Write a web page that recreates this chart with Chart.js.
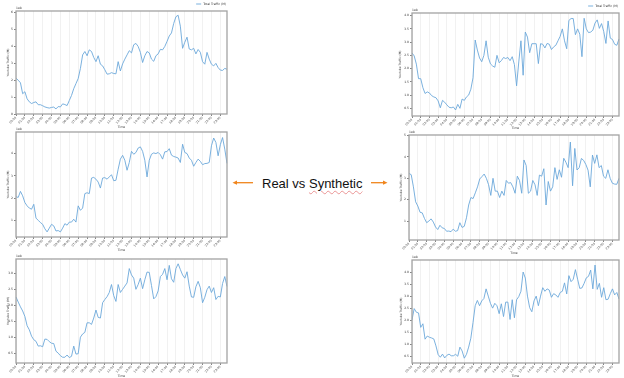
<!DOCTYPE html>
<html lang="en">
<head>
<meta charset="UTF-8">
<title>Youtube Traffic - Real vs Synthetic</title>
<script src="https://cdn.jsdelivr.net/npm/chart.js"></script>
<style>
    body {
        margin: 0;
        background: #fff;
        width: 624px;
        height: 378px;
        position: relative;
        overflow: hidden;
    }
    canvas {
        position: absolute;
    }
    .caption {
        position: absolute;
        left: 262px;
        top: 177px;
        font-family: "Liberation Sans", Arial, sans-serif;
        font-size: 13px;
        line-height: 13px;
        color: #111;
        white-space: nowrap;
    }
    .caption span {
        text-decoration: underline wavy rgba(226, 110, 110, 0.7);
        text-decoration-thickness: 0.8px;
        text-underline-offset: 1.5px;
    }
    svg {
        position: absolute;
        left: 0;
        top: 0;
    }
</style>
</head>
<body>
    <canvas id="realTopChart"></canvas>
    <canvas id="realMiddleChart"></canvas>
    <canvas id="realBottomChart"></canvas>
    <canvas id="synthTopChart"></canvas>
    <canvas id="synthMiddleChart"></canvas>
    <canvas id="synthBottomChart"></canvas>

    <div class="caption">Real vs <span>Synthetic</span></div>
    <svg width="624" height="378">
        <g stroke="#f0851c" stroke-width="1.3" fill="#f0851c">
            <line x1="253" y1="182.7" x2="236" y2="182.7"/>
            <polygon points="232.5,182.7 237,180.6 237,184.8" stroke="none"/>
            <line x1="371" y1="182.7" x2="383.5" y2="182.7"/>
            <polygon points="387.5,182.7 383,180.6 383,184.8" stroke="none"/>
        </g>
    </svg>

<script>
// hourly tick labels, each hour split into 15 minute samples
const hourLabels = ['00:00', '01:00', '02:00', '03:00', '04:00', '05:00', '06:00', '07:00',
    '08:00', '09:00', '10:00', '11:00', '12:00', '13:00', '14:00', '15:00',
    '16:00', '17:00', '18:00', '19:00', '20:00', '21:00', '22:00', '23:00'];
const quarterMinutes = ['00', '15', '30', '45'];
const timeLabels = hourLabels.flatMap(h => quarterMinutes.map(m => h.slice(0, 3) + m));

// traffic in units of 1e8
const realTop = [2.12, 2.0, 1.85, 1.2, 1.32, 0.9, 0.72, 0.62, 0.68, 0.72,
    0.55, 0.55, 0.49, 0.42, 0.38, 0.35, 0.39, 0.41, 0.3, 0.44,
    0.42, 0.6, 0.56, 0.5, 0.8, 1.1, 1.5, 1.8, 2.1, 2.7,
    3.5, 3.7, 3.45, 3.8, 3.7, 3.35, 3.1, 3.45, 2.95, 2.85,
    2.62, 2.36, 2.38, 2.45, 2.4, 2.38, 3.1, 2.55, 2.97, 3.25,
    3.5, 3.75, 3.62, 4.1, 4.18, 4.0, 3.65, 3.05, 3.45, 3.7,
    3.62, 3.25, 3.12, 3.45, 3.56, 3.83, 3.8, 4.0, 4.3, 4.62,
    4.8, 5.36, 5.76, 5.85, 5.2, 3.89, 4.25, 4.55, 3.85, 3.8,
    3.89, 3.56, 3.82, 3.65, 3.1, 2.95, 3.65, 3.25, 2.95, 2.85,
    3.0, 2.75, 2.6, 2.58, 2.7, 2.65];

const realMiddle = [2.06, 2.03, 2.3, 2.1, 1.8, 1.65, 1.55, 1.5, 1.72, 1.1,
    1.0, 0.9, 0.82, 0.62, 0.48, 0.65, 0.82, 0.75, 0.52, 0.54,
    0.48, 0.65, 0.85, 0.78, 0.92, 0.92, 1.05, 0.92, 1.65, 1.45,
    1.55, 2.2, 2.24, 2.2, 2.9, 2.93, 2.85, 2.72, 2.45, 2.9,
    2.92, 2.85, 2.95, 3.05, 2.78, 2.8, 3.3, 3.75, 3.92, 3.7,
    3.25, 3.6, 4.1, 3.97, 4.05, 4.25, 4.3, 4.1, 3.7, 2.95,
    3.7, 3.97, 4.03, 4.0, 4.05, 3.95, 3.75, 4.08, 4.09, 4.22,
    3.93, 3.87, 3.84, 3.8, 3.6, 4.42, 4.05, 4.0, 3.8, 3.7,
    3.43, 3.6, 3.75, 3.65, 3.5, 3.55, 3.56, 3.6, 4.35, 4.7,
    4.5, 3.9, 4.4, 4.72, 4.2, 3.56];

const realBottom = [2.26, 2.1, 1.95, 1.82, 1.65, 1.36, 1.23, 1.03, 0.92, 0.87,
    0.72, 0.73, 0.7, 0.94, 0.93, 0.86, 0.81, 0.8, 0.56, 0.5,
    0.42, 0.37, 0.37, 0.44, 0.36, 0.4, 0.72, 0.47, 0.48, 1.0,
    1.1, 1.15, 1.45, 1.45, 1.4, 1.6, 1.85, 1.62, 1.6, 2.08,
    2.18, 2.27, 2.4, 2.65, 2.3, 2.12, 2.65, 2.4, 2.5, 2.6,
    2.7, 3.15, 2.95, 2.85, 2.5, 2.65, 2.85, 2.52, 2.8, 3.04,
    3.03, 2.62, 2.2, 2.27, 2.45, 2.9, 2.97, 3.15, 2.8, 3.25,
    2.83, 2.72, 3.15, 3.3, 3.12, 2.95, 2.85, 3.05, 2.6, 2.26,
    2.25, 2.58, 2.75, 2.55, 2.08, 2.25, 2.49, 2.6, 2.4, 2.55,
    2.18, 2.28, 2.26, 2.68, 2.9, 2.59];

const synthTop = [2.59, 2.48, 2.17, 1.62, 1.62, 1.28, 1.06, 1.12, 1.08, 0.98,
    0.93, 0.9, 0.78, 0.52, 0.8, 0.73, 0.63, 0.54, 0.52, 0.55,
    0.44, 0.65, 0.5, 0.85, 0.8, 0.93, 1.0, 1.22, 1.65, 3.08,
    2.7, 2.4, 2.26, 2.5, 3.05, 2.43, 2.18, 2.1, 2.05, 2.5,
    2.22, 2.3, 2.42, 2.38, 2.42, 2.3, 2.45, 2.15, 1.35, 2.25,
    3.05, 1.75, 3.38, 3.19, 2.6, 2.94, 2.94, 2.94, 2.19, 2.94,
    2.92, 2.78, 2.95, 2.92, 2.72, 2.82, 2.88, 3.05, 3.22, 3.5,
    3.05, 2.75, 3.82, 3.89, 3.89, 3.28, 3.5, 3.3, 2.45, 3.9,
    3.5, 3.36, 3.38, 3.45, 3.72, 3.84, 3.52, 3.7, 3.4, 2.95,
    3.8, 3.15, 3.1, 2.92, 2.88, 3.12];

const synthMiddle = [3.23, 3.17, 2.6, 1.9, 1.7, 1.41, 1.38, 1.12, 0.92, 1.0,
    1.1, 0.95, 0.72, 0.6, 0.8, 0.68, 0.65, 0.52, 0.53, 0.5,
    0.62, 0.52, 0.55, 0.92, 0.7, 0.75, 1.15, 1.75, 2.1, 2.05,
    2.32, 2.6, 2.97, 3.08, 3.2, 3.0, 2.7, 2.2, 3.0, 2.4,
    2.4, 2.1, 2.4, 2.2, 2.9, 2.77, 2.8, 2.6, 2.3, 3.1,
    2.9, 2.3, 3.86, 3.6, 2.3, 2.4, 2.9, 2.7, 2.2, 3.15,
    3.1, 3.45, 1.75, 2.85, 2.4, 2.6, 3.5, 2.95, 3.4, 3.05,
    3.94, 3.75, 3.5, 4.7, 2.65, 4.4, 3.39, 3.5, 3.93, 3.84,
    3.65, 3.38, 2.6, 4.09, 3.7, 4.1, 3.5, 3.6, 3.1, 3.0,
    3.4, 3.0, 2.77, 2.73, 2.72, 3.0];

const synthBottom = [2.01, 2.48, 2.33, 2.3, 1.7, 1.85, 1.21, 1.34, 1.29, 1.26,
    1.22, 0.93, 0.57, 0.46, 0.59, 0.43, 0.54, 0.59, 0.52, 0.52,
    0.58, 0.5, 0.88, 0.72, 0.42, 0.58, 0.88, 1.25, 1.9, 2.6,
    2.82, 2.6, 2.8, 2.9, 3.3, 3.0, 2.7, 2.5, 2.7, 2.6,
    2.27, 2.68, 2.15, 2.75, 2.75, 2.03, 2.85, 2.1, 2.85, 2.98,
    3.2, 4.0, 3.75, 3.0, 2.52, 2.35, 2.8, 3.0, 2.6, 3.0,
    3.35, 3.2, 3.3, 3.25, 2.95, 3.1, 3.05, 2.95, 3.15, 3.2,
    3.55, 3.09, 3.85, 3.6, 3.7, 4.1, 3.7, 3.32, 3.34, 3.53,
    3.76, 3.82, 4.08, 3.3, 4.29, 3.28, 3.53, 2.95, 3.35, 2.85,
    2.87, 3.1, 3.3, 3.05, 3.15, 2.88];

// y tick positions per panel
const ticksRealTop = [0, 1, 2, 3, 4, 5, 6];
const ticksRealMiddle = [1, 2, 3, 4];
const ticksRealBottom = [0.5, 1.0, 1.5, 2.0, 2.5, 3.0];
const ticksSynthTop = [0.5, 1.0, 1.5, 2.0, 2.5, 3.0, 3.5, 4.0];
const ticksSynthMiddle = [1, 2, 3, 4, 5];
const ticksSynthBottom = [0.5, 1.0, 1.5, 2.0, 2.5, 3.0, 3.5, 4.0];

Chart.defaults.font.family = "'DejaVu Sans', sans-serif";
Chart.defaults.font.size = 3;
Chart.defaults.color = '#333';

const lineColor = '#6ca8da';

// frame around the axes, the 1e8 offset label and the small legend
const panelNotes = {
    id: 'panelNotes',
    afterDatasetsDraw(chart, args, opts) {
        const { ctx, chartArea: a } = chart;
        ctx.save();
        ctx.strokeStyle = '#a3a3a3';
        ctx.lineWidth = 1.3;
        ctx.strokeRect(a.left, a.top, a.right - a.left, a.bottom - a.top);

        ctx.fillStyle = '#333';
        ctx.font = "3px 'DejaVu Sans', sans-serif";
        ctx.textAlign = 'left';
        ctx.textBaseline = 'bottom';
        ctx.fillText('1e8', a.left, a.top - 1);

        if (opts.legend) {
            const label = chart.data.datasets[0].label;
            ctx.textAlign = 'right';
            ctx.textBaseline = 'middle';
            const y = a.top - 7;
            const textW = ctx.measureText(label).width;
            ctx.fillText(label, a.right - 1, y);
            ctx.strokeStyle = lineColor;
            ctx.lineWidth = 0.9;
            ctx.beginPath();
            ctx.moveTo(a.right - 1 - textW - 7, y);
            ctx.lineTo(a.right - 1 - textW - 2, y);
            ctx.stroke();
        }
        ctx.restore();
    }
};

function drawTrafficChart(id, values, yTicks, yMin, yMax, decimals, box, showLegend) {
    const canvas = document.getElementById(id);
    canvas.width = box.w;
    canvas.height = box.h;
    canvas.style.left = box.x + 'px';
    canvas.style.top = box.y + 'px';

    const yAxisWidth = box.left - box.x;
    const xAxisHeight = box.y + box.h - box.bottom;

    return new Chart(canvas, {
        type: 'line',
        data: {
            labels: timeLabels,
            datasets: [{
                label: 'Total Traffic (M)',
                data: values,
                borderColor: lineColor,
                borderWidth: 0.9,
                pointRadius: 0,
                tension: 0,
                fill: false
            }]
        },
        options: {
            responsive: false,
            animation: false,
            devicePixelRatio: 1,
            layout: {
                padding: { top: box.top - box.y, right: box.x + box.w - box.right, left: 0, bottom: 0 }
            },
            plugins: {
                legend: { display: false },
                tooltip: { enabled: false },
                panelNotes: { legend: showLegend }
            },
            scales: {
                x: {
                    type: 'category',
                    offset: false,
                    border: { display: false },
                    grid: {
                        color: c => c.index % 4 === 0 ? '#ededed' : 'rgba(0,0,0,0)',
                        tickColor: c => c.index % 4 === 0 ? '#666' : 'rgba(0,0,0,0)',
                        lineWidth: 0.8,
                        tickLength: 2
                    },
                    ticks: {
                        autoSkip: false,
                        minRotation: 45,
                        maxRotation: 45,
                        padding: 0,
                        callback: function (v, i) {
                            return i % 4 === 0 ? this.getLabelForValue(v) : '';
                        }
                    },
                    title: { display: true, text: 'Time', padding: { top: 0, bottom: 0.2 } },
                    afterFit: s => { s.height = xAxisHeight; }
                },
                y: {
                    min: yMin,
                    max: yMax,
                    border: { display: false },
                    afterBuildTicks: s => { s.ticks = yTicks.map(v => ({ value: v })); },
                    grid: { drawOnChartArea: false, tickLength: 2, tickColor: '#666', lineWidth: 0.8 },
                    ticks: {
                        padding: 1,
                        callback: v => Number(v).toFixed(decimals)
                    },
                    title: { display: true, text: 'Youtube Traffic (M)', padding: { top: 0.2, bottom: 0 } },
                    afterFit: s => { s.width = yAxisWidth; }
                }
            }
        },
        plugins: [panelNotes]
    });
}

drawTrafficChart('realTopChart', realTop, ticksRealTop, 0, 6.1, 0,
    { x: 6, y: 0, w: 224, h: 129, left: 16, top: 11, right: 227, bottom: 114 }, true);
drawTrafficChart('realMiddleChart', realMiddle, ticksRealMiddle, 0.25, 4.97, 0,
    { x: 6, y: 121, w: 224, h: 131, left: 16, top: 132, right: 227, bottom: 237 }, false);
drawTrafficChart('realBottomChart', realBottom, ticksRealBottom, 0.19, 3.45, 1,
    { x: 6, y: 248, w: 224, h: 130, left: 16, top: 259, right: 227, bottom: 363 }, false);
drawTrafficChart('synthTopChart', synthTop, ticksSynthTop, 0.21, 4.1, 1,
    { x: 398, y: 0, w: 226, h: 130, left: 412, top: 13, right: 619, bottom: 116 }, true);
drawTrafficChart('synthMiddleChart', synthMiddle, ticksSynthMiddle, 0.11, 5.03, 0,
    { x: 399, y: 122, w: 225, h: 133, left: 409, top: 135, right: 619, bottom: 240 }, false);
drawTrafficChart('synthBottomChart', synthBottom, ticksSynthBottom, 0.22, 4.5, 1,
    { x: 399, y: 248, w: 225, h: 130, left: 412, top: 260, right: 619, bottom: 363 }, false);
</script>
</body>
</html>
